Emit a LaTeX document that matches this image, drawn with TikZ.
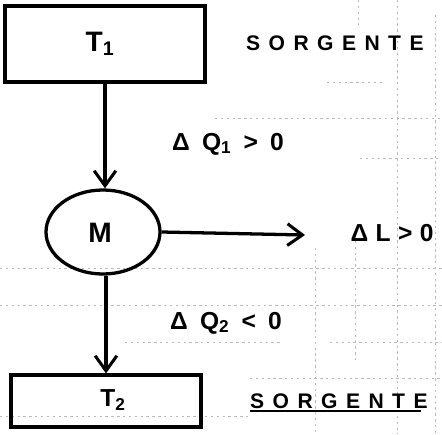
\documentclass[tikz,border=0pt]{standalone}
\usepackage{fontspec}
\setmainfont{Liberation Sans}
\usetikzlibrary{arrows.meta,shapes.geometric}
\tikzset{
  ink/.style={line width=2.8pt,black},
  boxnode/.style={draw,ink,rectangle,inner sep=0pt},
  big/.style={font=\fontsize{24}{26}\selectfont\bfseries,inner sep=1pt},
  lbl/.style={font=\fontsize{21}{24}\selectfont\bfseries\addfontfeatures{LetterSpace=22},inner sep=1pt},
  wide/.style={font=\fontsize{18}{20}\selectfont\bfseries\addfontfeatures{LetterSpace=40},inner sep=0pt},
  flow/.style={ink,-{Straight Barb[length=4.5mm,width=6.5mm,line width=2.6pt]}},
  gridln/.style={gray!55,line width=0.6pt,dash pattern=on 2pt off 3pt}
}
\begin{document}
\begin{tikzpicture}[x=0.03cm,y=-0.03cm]
\useasboundingbox (0,0) rectangle (442,434);
% faint graph-paper lines
\draw[gridln] (215,118) -- (442,118);
\draw[gridln] (327,82) -- (385,82);
\draw[gridln] (358,0) -- (358,25);
\draw[gridln] (397,0) -- (397,434);
\draw[gridln] (435,15) -- (435,434);
\draw[gridln] (360,158) -- (442,158);
\draw[gridln] (0,268) -- (442,268);
\draw[gridln] (315,248) -- (315,434);
\draw[gridln] (355,235) -- (355,360);
\draw[gridln] (0,305) -- (442,305);
\draw[gridln] (125,342) -- (280,342);
\draw[gridln] (330,342) -- (442,342);
\draw[gridln] (250,378) -- (442,378);
\draw[gridln] (0,416) -- (250,416);
% nodes
\node[boxnode,minimum width=6cm,minimum height=2.28cm] (T1) at (105,44) {};
\node[big] (t1txt) at (100,44) {T\textsubscript{1}};
\node[draw,ink,ellipse,minimum width=3.42cm,minimum height=2.52cm,inner sep=0pt] (M) at (103,232) {};
\node[big] (mtxt) at (100,233) {M};
\node[boxnode,minimum width=5.7cm,minimum height=1.56cm] (T2) at (106,401) {};
\node[lbl] (t2txt) at (113,400) {T\textsubscript{2}};
\node[wide,anchor=west] (s1) at (246,43) {SORGENTE};
\node[wide,anchor=west] (s2) at (250,401) {SORGENTE};
\draw[ink,line width=1.8pt] ([yshift=-2pt]s2.south west) -- ([yshift=-2pt,xshift=-6pt]s2.south east);
\node[lbl] (q1) at (228,144) {Δ Q\textsubscript{1} > 0};
\node[lbl] (q2) at (226,323) {Δ Q\textsubscript{2} < 0};
\node[lbl,font=\fontsize{21}{24}\selectfont\bfseries\addfontfeatures{LetterSpace=30}] (dl) at (392,233) {ΔL>0};
\coordinate (out) at (305,235);
% connectors
\draw[flow] (T1.south -| 105,0) -- (M.north -| 105,0);
\draw[flow] (M.east) -- (out);
\draw[flow] (M.south -| 106,0) -- (T2.north -| 106,0);
\end{tikzpicture}
\end{document}
